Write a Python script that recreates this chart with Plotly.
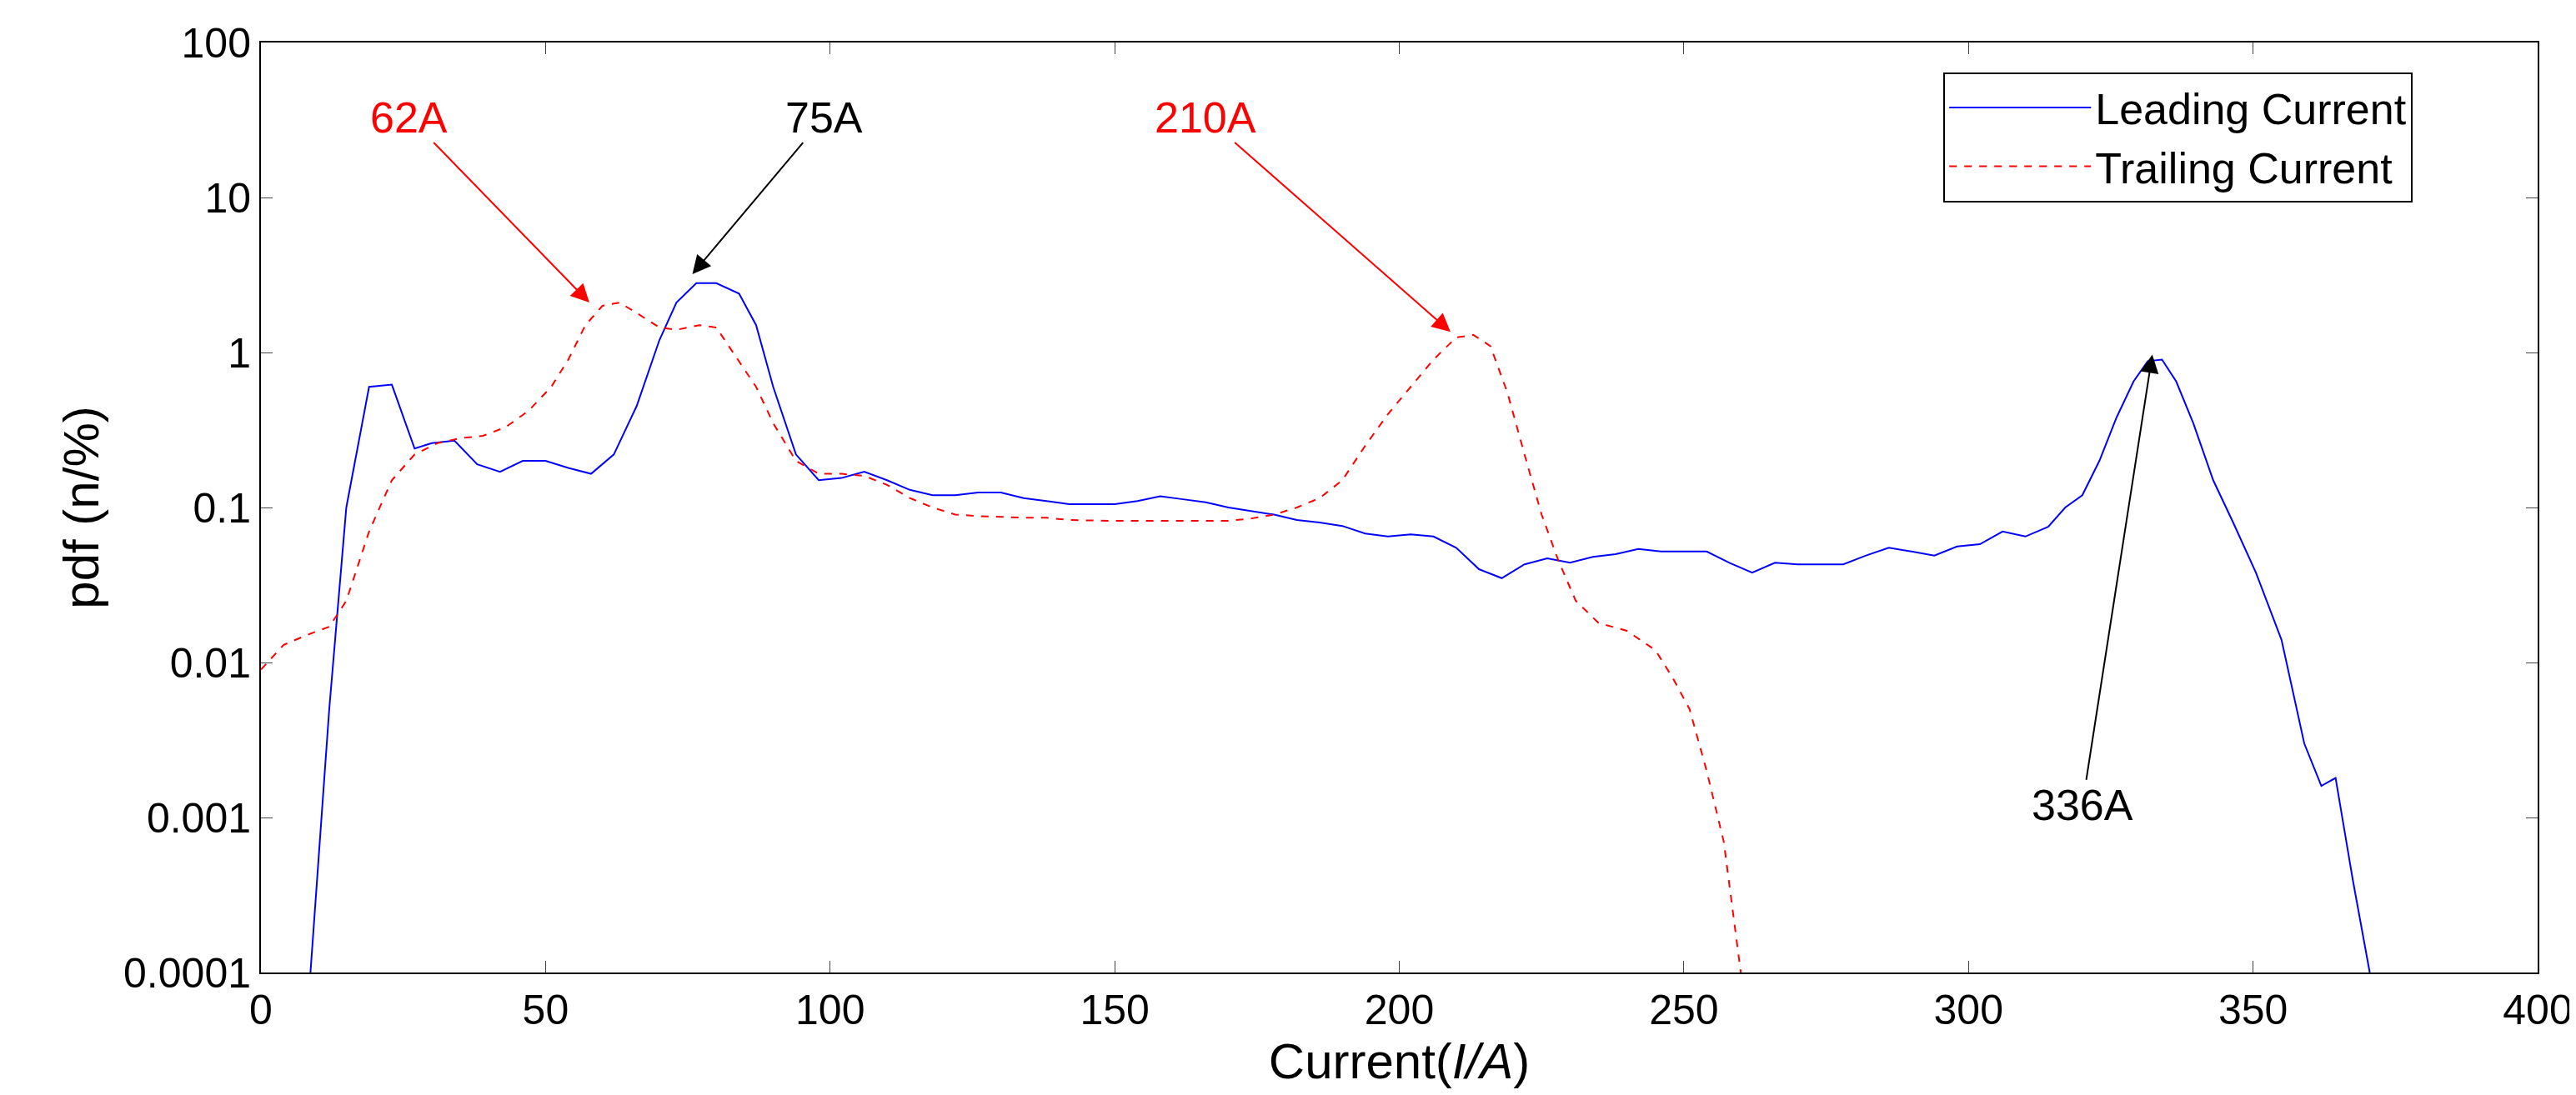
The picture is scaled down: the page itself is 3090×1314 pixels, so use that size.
import plotly.graph_objects as go
import math

lead_x = [8.7,12,15,19,23,27,30,34,38,42,46,50,54,58,62,66,70,73,76.5,80,84,87,90,94,98,102,106,110,114,118,122,126,130,134,138,142,146,150,154,158,162,166,170,174,178,182,186,190,194,198,202,206,210,214,218,222,226,230,234,238,242,246,250,254,258,262,266,270,274,278,282,286,290,294,298,302,306,310,314,317,320,323,326,329,331.5,334,336.5,339.5,343,346.5,350.5,355,359,362,364.5,367.5,370.5]
lead_y = [0.0001,0.005,0.1,0.6,0.62,0.24,0.26,0.27,0.19,0.17,0.2,0.2,0.18,0.165,0.22,0.45,1.2,2.1,2.8,2.8,2.4,1.5,0.6,0.22,0.15,0.155,0.17,0.15,0.13,0.12,0.12,0.125,0.125,0.115,0.11,0.105,0.105,0.105,0.11,0.118,0.113,0.108,0.1,0.095,0.09,0.083,0.08,0.076,0.068,0.065,0.067,0.065,0.055,0.04,0.035,0.043,0.047,0.044,0.048,0.05,0.054,0.052,0.052,0.052,0.044,0.038,0.044,0.043,0.043,0.043,0.049,0.055,0.052,0.049,0.056,0.058,0.07,0.065,0.075,0.1,0.12,0.2,0.38,0.65,0.88,0.9,0.65,0.35,0.15,0.08,0.038,0.014,0.003,0.0016,0.0018,0.0004,0.0001]

trail_x = [0,4,8,12,15,19,23,27,31,35,39,43,47,51,54,57,60,63,66,70,73,77,80,83,87,90,94,98,102,106,110,114,118,122,126,130,134,138,142,150,160,170,174,178,182,186,190,194,198,202,206,210,213,216,219,222,225,228,231,235,240,245,248,251,254,257,260]
trail_y = [0.009,0.013,0.015,0.017,0.025,0.07,0.15,0.22,0.26,0.28,0.29,0.33,0.42,0.6,0.9,1.5,2.0,2.1,1.8,1.45,1.4,1.5,1.45,1.0,0.6,0.35,0.2,0.165,0.165,0.16,0.14,0.115,0.1,0.09,0.088,0.087,0.086,0.086,0.083,0.082,0.082,0.082,0.085,0.09,0.1,0.115,0.15,0.25,0.4,0.6,0.9,1.25,1.3,1.1,0.55,0.22,0.09,0.045,0.025,0.018,0.016,0.012,0.008,0.005,0.002,0.0007,0.0001]

ytick_vals = [0.0001,0.001,0.01,0.1,1,10,100]
ytick_text = ["0.0001","0.001","0.01","0.1","1","10","100"]

# annotations: label, head x, head y, tail x, tail y, color
ann = [("62A",57.7,2.1,26,33,"red"),
       ("75A",75.8,3.2,99,33,"black"),
       ("210A",209,1.36,166,33,"red"),
       ("336A",332.3,0.97,320,0.0012,"black")]

fig = go.Figure()
fig.add_trace(go.Scatter(x=lead_x, y=lead_y, mode="lines", name="Leading Current",
                         line=dict(color="blue", width=2)))
fig.add_trace(go.Scatter(x=trail_x, y=trail_y, mode="lines", name="Trailing Current",
                         line=dict(color="red", width=2, dash="dash")))
for t, hx, hy, tx, ty, c in ann:
    fig.add_annotation(x=hx, y=math.log10(hy), ax=tx, ay=math.log10(ty), axref="x", ayref="y",
                       text=t, showarrow=True, arrowhead=2, arrowsize=2.2, arrowwidth=2,
                       arrowcolor=c, font=dict(color=c, size=52, family="Arial, Liberation Sans"),
                       standoff=0)
fig.update_layout(
    width=3090, height=1314, paper_bgcolor="white", plot_bgcolor="white",
    margin=dict(l=305, r=51, t=43, b=155),
    font=dict(family="Arial, Liberation Sans", size=50, color="black"),
    legend=dict(x=0.739, y=0.968, xanchor="left", yanchor="top", bordercolor="black",
                borderwidth=2, bgcolor="white", font=dict(size=52), itemwidth=170),
)
fig.update_xaxes(range=[0,400], dtick=50, ticks="inside", ticklen=14, showline=True, linecolor="black",
                 linewidth=2, mirror="ticks", showgrid=False, zeroline=False,
                 title=dict(text="Current(<i>I/A</i>)", standoff=8))
fig.update_yaxes(type="log", range=[-4,2], tickvals=ytick_vals, ticktext=ytick_text, ticks="inside",
                 ticklen=14, showline=True, linecolor="black", linewidth=2, mirror="ticks",
                 showgrid=False, zeroline=False, title=dict(text="pdf (n/%)", standoff=10))
fig.write_html("out.html")
